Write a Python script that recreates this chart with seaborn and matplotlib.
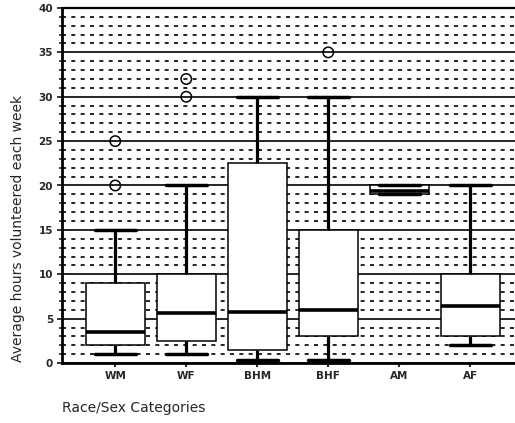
import numpy as np
import pandas as pd
import matplotlib
matplotlib.use("Agg")
import matplotlib.pyplot as plt
import seaborn as sns
from matplotlib.ticker import MultipleLocator

# ---- data ----
categories = ["WM", "WF", "BHM", "BHF", "AM", "AF"]
whisker_low = [1, 1, 0.3, 0.3, 19, 2]
q1 = [2, 2.5, 1.5, 3, 19, 3]
median = [3.5, 5.6, 5.7, 6, 19.4, 6.4]
q3 = [9, 10, 22.5, 15, 20, 10]
whisker_high = [15, 20, 30, 30, 20, 20]
outlier_cats = ["WM", "WM", "WF", "WF", "BHF"]
outlier_vals = [20, 25, 30, 32, 35]
y_ticks = [0, 5, 10, 15, 20, 25, 30, 35, 40]

# five summary values per group -> boxplot reproduces them exactly
rows = []
for c, lo, a, m, b, hi in zip(categories, whisker_low, q1, median, q3, whisker_high):
    for v in (lo, a, m, b, hi):
        rows.append((c, v))
df = pd.DataFrame(rows, columns=["cat", "hours"])

sns.set_style("white")
plt.rcParams["font.family"] = ["DejaVu Sans"]

fig = plt.figure(figsize=(5.15, 4.23), dpi=100)
ax = fig.add_axes([62 / 515, 60 / 423, 1 - 62 / 515, 355 / 423])

sns.boxplot(data=df, x="cat", y="hours", order=categories, whis=(0, 100),
            width=0.83, color="white", linecolor="black", saturation=1,
            showfliers=False, capwidths=0.58,
            boxprops=dict(linewidth=1.1),
            whiskerprops=dict(linewidth=2.3),
            capprops=dict(linewidth=2.5),
            medianprops=dict(linewidth=2.6, color="black"),
            ax=ax)

n_before = len(ax.collections)
sns.stripplot(x=outlier_cats, y=outlier_vals, order=categories, jitter=False,
              size=7.5, color="black", linewidth=1.1, edgecolor="black", ax=ax)
for coll in ax.collections[n_before:]:
    coll.set_facecolor("none")
    coll.set_edgecolor("black")
    coll.set_zorder(5)

ax.set_xlim(-0.75, 5.63)
ax.set_ylim(0, 40)
ax.yaxis.set_major_locator(MultipleLocator(5))
ax.yaxis.set_minor_locator(MultipleLocator(1))
ax.set_yticks(y_ticks)
ax.set_axisbelow(True)
ax.grid(False)
ax.grid(which="major", axis="y", color="black", linewidth=1.2, linestyle="-")
ax.grid(which="minor", axis="y", color="black", linewidth=1.2,
        linestyle=(0, (2.4, 3.2)))

ax.tick_params(axis="y", which="major", direction="inout", length=7, width=1.3,
               left=True, labelsize=7.5, pad=3)
ax.tick_params(axis="y", which="minor", direction="inout", length=5, width=1.2, left=True)
ax.tick_params(axis="x", which="major", direction="out", length=3, width=1.5,
               bottom=True, labelsize=7.5, pad=3)
for lab in ax.get_xticklabels() + ax.get_yticklabels():
    lab.set_fontweight("bold")

for side in ("left", "bottom"):
    ax.spines[side].set_linewidth(2)
    ax.spines[side].set_color("black")
ax.spines["top"].set_linewidth(1.6)
ax.spines["top"].set_color("black")
ax.spines["right"].set_visible(False)

ax.set_xlabel("")
ax.set_ylabel("")
fig.text(18 / 515, 1 - 362 / 423, "Average hours volunteered each week",
         rotation=90, ha="center", va="bottom", fontsize=10)
fig.text(62 / 515, 1 - 408 / 423, "Race/Sex Categories",
         ha="left", va="center", fontsize=10)

fig.savefig("out.png", dpi=100)
